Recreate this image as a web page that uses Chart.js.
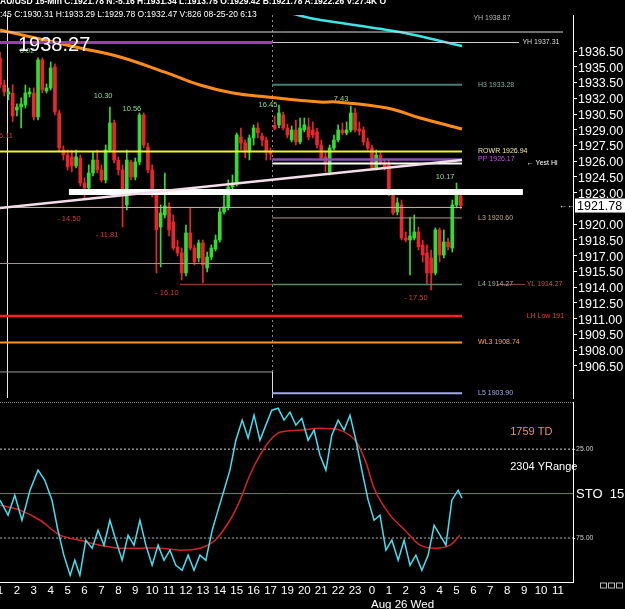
<!DOCTYPE html>
<html lang="en">
<head>
<meta charset="utf-8">
<title>XAU/USD 15-Min</title>
<script src="https://cdn.jsdelivr.net/npm/chart.js@4.4.0/dist/chart.umd.min.js"></script>
<style>
  body { margin:0; background:#000; width:625px; height:609px; overflow:hidden; position:relative; font-family:"Liberation Sans", Arial, sans-serif; color:#fff; }
  #priceBox { position:absolute; left:0; top:0; width:625px; height:400px; }
  #stoBox { position:absolute; left:0; top:400px; width:625px; height:209px; }
  .hdr { position:absolute; left:0; white-space:nowrap; font-size:8.5px; color:#fff; }
  #lastBig { position:absolute; left:18px; top:33px; font-size:20px; color:#fff; }
</style>
</head>
<body>
<div id="priceBox"><canvas id="priceChart"></canvas></div>
<div id="stoBox"><canvas id="stoChart"></canvas></div>
<div class="hdr" style="top:-4px;font-weight:bold">AU/USD 15-Min C:1921.78 N:-5.16 H:1931.34 L:1913.75 O:1929.42 B:1921.78 A:1922.26 V:27.4K O</div>
<div class="hdr" style="top:9px">:45 C:1930.31 H:1933.29 L:1929.78 O:1932.47 V:826 08-25-20 6:13</div>
<div id="lastBig">1938.27</div>
<script>
// 15-min candles, left to right
const candleOpen = [1935.84,1933.26,1932.41,1932.47,1930.88,1931.17,1931.36,1932.41,1932.50,1930.22,
  1935.65,1932.69,1932.98,1934.98,1930.60,1927.07,1926.60,1926.41,1925.55,1926.31,
  1923.93,1923.46,1924.88,1926.12,1925.17,1924.22,1927.07,1929.65,1926.12,1925.17,
  1921.84,1925.93,1924.50,1925.93,1930.41,1927.36,1925.17,1922.98,1919.74,1920.88,
  1921.65,1920.22,1917.84,1917.27,1915.36,1919.17,1917.74,1916.79,1918.22,1915.84,
  1916.88,1917.65,1918.50,1921.17,1921.65,1923.55,1923.93,1928.31,1927.74,1926.88,
  1928.22,1929.17,1928.41,1928.03,1926.88,1929.42,1929.46,1930.41,1929.17,1928.03,
  1928.98,1927.84,1928.98,1929.27,1928.98,1928.79,1927.55,1926.41,1924.98,1927.27,
  1928.03,1928.98,1928.69,1928.98,1930.60,1929.07,1928.98,1927.84,1927.27,1925.36,
  1926.60,1925.84,1925.65,1922.98,1921.17,1921.84,1918.69,1918.50,1918.69,1919.27,
  1918.03,1917.27,1916.79,1915.36,1919.46,1917.07,1918.31,1917.74,1921.84,1922.69];
const candleHigh = [1936.41,1933.74,1932.98,1933.29,1931.46,1932.03,1933.26,1932.98,1932.98,1935.84,
  1935.84,1933.36,1935.46,1935.27,1930.88,1927.46,1927.07,1927.07,1927.07,1926.60,
  1924.41,1925.65,1926.88,1927.07,1925.65,1927.55,1931.17,1929.93,1926.41,1925.65,
  1927.07,1926.12,1926.31,1930.60,1930.60,1927.74,1925.65,1923.27,1921.84,1924.88,
  1922.03,1920.88,1918.50,1917.74,1919.93,1921.55,1918.03,1918.50,1918.50,1917.36,
  1918.03,1918.98,1921.55,1922.79,1924.22,1924.69,1928.69,1929.17,1928.03,1928.50,
  1929.46,1929.65,1928.69,1928.31,1927.27,1930.31,1931.34,1930.69,1929.55,1929.36,
  1929.93,1930.12,1930.12,1930.12,1929.74,1929.17,1928.03,1926.88,1927.55,1928.50,
  1929.46,1929.65,1929.74,1931.26,1931.07,1929.74,1929.27,1928.22,1927.55,1927.07,
  1926.88,1926.12,1926.12,1923.27,1922.50,1922.31,1919.27,1920.69,1920.88,1919.74,
  1918.50,1918.03,1917.55,1919.65,1919.65,1919.46,1918.69,1922.31,1923.93,1922.88];
const candleLow = [1932.98,1932.22,1931.84,1929.78,1930.31,1929.17,1931.07,1932.12,1929.93,1929.93,
  1932.50,1932.50,1932.79,1930.41,1926.88,1926.12,1925.17,1924.98,1925.36,1923.65,
  1922.50,1923.27,1924.60,1924.88,1924.03,1923.93,1926.88,1925.84,1924.69,1919.74,
  1921.36,1924.22,1924.22,1925.65,1927.27,1924.88,1922.60,1915.36,1915.93,1920.60,
  1918.88,1917.55,1916.98,1914.69,1915.07,1917.55,1916.12,1916.41,1914.41,1915.46,
  1916.60,1917.46,1918.31,1920.98,1921.36,1923.07,1923.65,1927.07,1926.31,1926.12,
  1927.55,1928.22,1927.46,1926.12,1926.12,1928.98,1929.17,1928.98,1928.22,1927.84,
  1927.55,1927.65,1928.79,1928.03,1928.22,1927.27,1926.12,1924.98,1924.69,1927.07,
  1927.84,1928.50,1928.50,1928.79,1928.79,1928.50,1927.55,1927.07,1925.17,1925.17,
  1925.65,1925.17,1922.69,1920.88,1920.88,1918.50,1918.31,1915.17,1918.50,1917.55,
  1916.41,1914.22,1913.75,1915.17,1916.41,1916.79,1917.55,1917.36,1921.55,1921.46];
const candleClose = [1933.26,1932.60,1932.60,1930.31,1931.17,1931.46,1932.50,1932.60,1930.22,1935.65,
  1932.79,1932.98,1934.88,1930.69,1927.27,1926.60,1925.46,1925.55,1926.41,1923.93,
  1923.46,1924.88,1926.12,1925.17,1924.22,1927.07,1929.65,1926.12,1925.17,1923.07,
  1926.12,1924.50,1925.93,1930.41,1927.55,1925.17,1922.98,1919.46,1921.07,1921.74,
  1919.46,1917.74,1917.27,1915.36,1919.17,1917.74,1916.41,1918.22,1916.12,1916.88,
  1917.74,1918.50,1921.17,1921.65,1923.55,1923.93,1928.50,1927.74,1926.88,1928.22,
  1929.17,1928.69,1928.03,1926.88,1926.69,1929.12,1930.60,1929.17,1928.50,1928.98,
  1927.84,1929.17,1929.46,1928.31,1928.50,1927.55,1926.31,1925.84,1927.27,1928.03,
  1928.98,1928.69,1928.98,1930.60,1928.98,1928.88,1927.84,1927.27,1925.36,1926.60,
  1925.84,1925.36,1922.98,1921.07,1922.03,1918.69,1918.50,1918.88,1919.27,1917.84,
  1917.07,1915.36,1915.36,1919.46,1917.07,1918.31,1917.84,1921.84,1922.79,1921.78];

// x axis: one hour label every 4 candles (no 18h bar)
const hourLabels = ['1','2','3','4','5','6','7','8','9','10','11','12','13','14','15','16','17',
  '19','20','21','22','23','0','1','2','3','4','5','6','7','8','9','10','11'];
const priceTicks = [1936.5,1935,1933.5,1932,1930.5,1929,1927.5,1926,1924.5,1923,1920,1918.5,
  1917,1915.5,1914,1912.5,1911,1909.5,1908,1906.5];
const lastPrice = 1921.78;

// moving averages (candle index, price)
const emaX = [0,18.9,28.4,39.5,47.3,55.1,63.2,75.7,79.7,91.6,99.4,109.3];
const emaY = [1938.50,1936.79,1935.93,1934.41,1933.26,1932.50,1932.12,1931.64,1931.64,1931.07,1930.12,1929.07];
const slowMaX = [68.6,74.5,94.6,109.3];
const slowMaY = [1940.12,1939.55,1938.31,1936.98];
const trendX = [0,109.3];
const trendY = [1921.55,1926.12];

// horizontal levels: value, from candle, to candle
const levelValue = [1938.31,1937.31,1937.31,1933.28,1926.94,1926.17,1925.79,1923.07,1921.60,1920.60,
  1916.26,1914.27,1914.27,1914.27,1911.26,1908.74,1905.93,1903.90];
const levelFrom  = [0,0,64.4,64.4,0,64.4,64.4,16.3,0,64.4,0,42.6,64.4,117.6,0,0,0,64.4];
const levelTo    = [133.2,64.4,122.8,109.3,109.3,109.3,109.3,123.7,109.3,109.3,64.4,64.4,109.3,124.2,109.3,109.3,64.4,109.3];

// level captions: text, candle position, price
const capText  = ['YH 1938.87','YH 1937.31','H3 1933.28','ROWR 1926.94','PP 1926.17','\u2190 Yest Hi','L3 1920.60',
  'L4 1914.27','YL 1914.27','LH Low 191','WL3 1908.74','L5 1903.90'];
const capX     = [112,123.6,113.1,113.1,113.1,124.6,113.1,113.1,124.6,124.6,113.1,113.1];
const capPrice = [1939.64,1937.31,1933.28,1926.94,1926.17,1925.85,1920.60,1914.27,1914.27,1911.26,1908.74,1903.90];

// swing size notes
const swingText  = ['6.02','6.11','10.30','10.56','16.45','7.43','10.17','- 14.50','- 11.81','- 16.10','- 17.50'];
const swingX     = [6.4,1.4,24.4,31.2,63.4,80.7,105.3,16.3,25.3,39.5,98.4];
const swingPrice = [1936.50,1928.40,1932.21,1930.98,1931.36,1931.93,1924.50,1920.50,1918.98,1913.45,1912.98];

// stochastic (candle index, value)
const stoKX = [0,1.9,3.5,5.2,7.1,9.0,10.6,12.3,13.7,15.1,16.6,17.7,18.9,20.3,21.8,23.2,24.6,26.0,27.4,28.9,
  30.3,31.7,33.1,34.5,36.0,37.4,38.8,40.2,41.6,43.1,44.5,45.9,47.3,48.7,50.2,51.6,53.0,54.4,55.8,57.3,
  58.7,60.1,61.5,62.9,64.3,65.8,67.2,68.6,70.0,71.4,72.9,74.3,75.7,77.1,78.5,80.0,81.4,82.8,84.2,85.6,
  87.1,88.5,89.9,91.3,92.7,94.2,95.6,97.0,98.4,99.8,101.3,102.7,104.1,105.5,106.9,108.4,109.3];
const stoKY = [53.7,62.1,50.9,65.0,48.1,36.8,42.5,53.7,70.6,84.6,95.9,87.5,95.9,76.2,80.7,70.6,79.0,65.0,76.2,87.5,
  73.4,79.0,65.0,79.0,90.3,79.0,87.5,81.8,90.3,93.1,84.6,93.1,84.6,87.5,70.6,59.3,48.1,36.8,20.0,8.7,
  18.8,5.9,20.0,11.5,3.1,2.0,8.7,4.2,11.5,7.6,20.0,14.3,28.4,36.8,17.2,8.7,14.3,5.9,20.0,36.8,
  53.7,65.0,62.1,81.8,76.2,87.5,76.2,90.3,84.6,93.1,84.6,67.8,73.4,79.0,53.7,48.1,52.6];
const stoDX = [0,4.7,9.5,14.2,18.9,23.7,28.4,33.1,37.9,42.6,47.3,50.9,54.4,56.8,59.1,61.5,63.9,66.2,71.0,75.7,
  80.4,84.0,86.4,88.7,92.3,95.8,99.4,102.9,106.5,108.8];
const stoDY = [56.5,59.3,65.0,73.4,76.2,79.0,80.7,80.7,80.7,81.8,80.7,76.2,65.0,53.7,39.7,28.4,20.0,15.5,14.3,13.2,
  14.3,20.0,31.2,48.1,62.1,70.6,79.0,80.7,79.0,73.4];
const stoLevels = [25, 50, 75];
const stoTicks = [25, 75];

// ---------- styles ----------
const X_MIN = 0, X_MAX = 135.56;
const Y_MIN = 1903.45, Y_MAX = 1939.93;
const dayStart = 64.4, cursorAt = 1.66;
const upColor = '#33dc33', downColor = '#e8262e';
const levelColor = ['#dddddd','#9b3db5','#cfcfcf','#4d7d72','#f2f22a','#8a55b0','#ffffff','#ffffff','#cbb6aa','#b09a8a',
  '#a39484','#8a3a2a','#5f8565','#8a5040','#ff1c1c','#ff962e','#9a9a9a','#a4a4f4'];
const levelWidth = [1,3,1,2,2,2.5,2,6,1,1,1,1.5,1.5,1,2.5,2,1,2];
const capColor = ['#bbbbbb','#dddddd','#7fb3a3','#f3e6aa','#c355e0','#ffffff','#c8a890','#9cb09c','#d85040','#ff3030','#ffa040','#a8a8f4'];
const swingColor = ['#7fc07f','#c84040','#8fd88f','#8fd88f','#8fd88f','#8fd88f','#8fd88f','#c84040','#c84040','#c84040','#c84040'];
const FONT = '"Liberation Sans", Arial, sans-serif';

const idx = candleOpen.map((_, i) => i);
const isUp = idx.map(i => candleClose[i] >= candleOpen[i]);
const candleColors = isUp.map(u => u ? upColor : downColor);
const pts = (xs, ys) => xs.map((x, i) => ({x: x, y: ys[i]}));
const noPad = s => { s.paddingTop = 0; s.paddingBottom = 0; s.paddingLeft = 0; s.paddingRight = 0; };

const levelSets = levelValue.map((v, i) => ({
  type: 'line', data: [{x: levelFrom[i], y: v}, {x: levelTo[i], y: v}],
  borderColor: levelColor[i], borderWidth: levelWidth[i], pointRadius: 0, order: 2
}));

const priceOverlay = {
  id: 'priceOverlay',
  beforeDatasetsDraw(chart) {
    const {ctx, scales: {x, y}, chartArea: a} = chart;
    ctx.save();
    // session separator + cursor
    const sx = Math.round(x.getPixelForValue(dayStart)) + 0.5;
    ctx.strokeStyle = '#8a8a8a'; ctx.lineWidth = 1; ctx.setLineDash([2, 3]);
    ctx.beginPath(); ctx.moveTo(sx, a.top); ctx.lineTo(sx, y.getPixelForValue(1905.93)); ctx.stroke();
    ctx.setLineDash([]); ctx.strokeStyle = '#dddddd';
    ctx.beginPath(); ctx.moveTo(sx, y.getPixelForValue(1905.93)); ctx.lineTo(sx, a.bottom); ctx.stroke();
    const cx = Math.round(x.getPixelForValue(cursorAt)) + 0.5;
    ctx.strokeStyle = '#e8e8e8';
    ctx.beginPath(); ctx.moveTo(cx, a.top); ctx.lineTo(cx, a.bottom); ctx.stroke();
    ctx.restore();
  },
  afterDraw(chart) {
    const {ctx, scales: {x, y}, chartArea: a} = chart;
    ctx.save();
    ctx.textBaseline = 'middle';
    ctx.font = '7px ' + FONT;
    capText.forEach((t, i) => {
      ctx.fillStyle = capColor[i];
      ctx.fillText(t, x.getPixelForValue(capX[i]), y.getPixelForValue(capPrice[i]));
    });
    ctx.font = '7.5px ' + FONT;
    ctx.textAlign = 'center';
    swingText.forEach((t, i) => {
      ctx.fillStyle = swingColor[i];
      ctx.fillText(t, x.getPixelForValue(swingX[i]), y.getPixelForValue(swingPrice[i]));
    });
    // last price box on the axis
    const ly = y.getPixelForValue(lastPrice);
    ctx.fillStyle = '#ffffff';
    ctx.fillRect(a.right + 2, ly - 7, 52, 14);
    ctx.fillStyle = '#000000';
    ctx.textAlign = 'left';
    ctx.font = '12.5px ' + FONT;
    ctx.fillText(lastPrice.toFixed(2), a.right + 4, ly + 0.5);
    ctx.fillStyle = '#ffffff';
    ctx.font = '8px ' + FONT;
    ctx.fillText('\u2190\u2190', a.right - 14, ly);
    ctx.restore();
  }
};

new Chart(document.getElementById('priceChart'), {
  type: 'bar',
  data: {
    datasets: [
      { type: 'line', data: pts(trendX, trendY), borderColor: '#f3dde8', borderWidth: 2.5, pointRadius: 0, order: 1 },
      ...levelSets,
      { type: 'line', data: pts(emaX, emaY), borderColor: '#ff8c1a', borderWidth: 3, pointRadius: 0, tension: 0.4, order: 3 },
      { type: 'line', data: pts(slowMaX, slowMaY), borderColor: '#3fe3e3', borderWidth: 2.5, pointRadius: 0, tension: 0.3, order: 3 },
      { data: idx.map(i => ({x: i, y: [candleOpen[i], candleClose[i]]})), backgroundColor: candleColors,
        barThickness: 3, minBarLength: 1, grouped: false, order: 5 },
      { data: idx.map(i => ({x: i, y: [candleLow[i], candleHigh[i]]})), backgroundColor: candleColors,
        barThickness: 1, grouped: false, order: 6 }
    ]
  },
  options: {
    responsive: true, maintainAspectRatio: false, animation: false,
    layout: { padding: { top: 15, bottom: 2, left: 0, right: 0 } },
    plugins: { legend: { display: false }, tooltip: { enabled: false } },
    scales: {
      x: { type: 'linear', min: X_MIN, max: X_MAX, offset: false, display: false },
      y: {
        position: 'right', min: Y_MIN, max: Y_MAX,
        afterFit: s => { s.width = 52; noPad(s); },
        afterBuildTicks: s => { s.ticks = priceTicks.map(v => ({value: v})); },
        ticks: { color: '#ffffff', padding: 1, labelOffset: 1.5, font: { family: FONT, size: 12.5 },
                 callback: v => v.toFixed(2) },
        grid: { drawOnChartArea: false, color: '#ffffff', tickLength: 4 },
        border: { color: '#ffffff', width: 1 }
      }
    }
  },
  plugins: [priceOverlay]
});

const stoOverlay = {
  id: 'stoOverlay',
  afterDraw(chart) {
    const {ctx, scales: {x, y}, chartArea: a} = chart;
    ctx.save();
    ctx.textBaseline = 'middle';
    ctx.font = '11px ' + FONT;
    ctx.fillStyle = '#e8925c';
    ctx.fillText('1759 TD', x.getPixelForValue(120.7), y.getPixelForValue(15.5));
    ctx.fillStyle = '#ffffff';
    ctx.fillText('2304 YRange', x.getPixelForValue(120.7), y.getPixelForValue(35.2));
    ctx.font = '13px ' + FONT;
    ctx.fillText('STO  15,', a.right + 3, y.getPixelForValue(50) + 1);
    ctx.font = '11.5px ' + FONT;
    ctx.textBaseline = 'alphabetic';
    ctx.fillText('Aug 26 Wed', x.getPixelForValue(88) - 1, a.bottom + 25);
    ctx.strokeStyle = '#bbbbbb'; ctx.lineWidth = 1;
    for (let k = 0; k < 3; k++) ctx.strokeRect(a.right + 27.5 + k * 8, a.bottom + 0.5, 6, 5);
    ctx.restore();
  }
};

const stoLevelColor = ['#d0d0d0', '#6d826d', '#b0b0b0'];
const stoLevelDash = [[2, 2], [], [2, 2]];

new Chart(document.getElementById('stoChart'), {
  type: 'line',
  data: {
    datasets: [
      { data: pts(stoKX, stoKY), borderColor: '#45dff0', borderWidth: 1.5, pointRadius: 0, order: 1 },
      { data: pts(stoDX, stoDY), borderColor: '#d42424', borderWidth: 1.5, pointRadius: 0, tension: 0.3, order: 2 },
      ...stoLevels.map((v, i) => ({ data: [{x: X_MIN, y: v}, {x: X_MAX, y: v}], borderColor: stoLevelColor[i],
        borderWidth: 1, borderDash: stoLevelDash[i], pointRadius: 0, order: 4 })),
      { data: [{x: X_MIN, y: -1.2}, {x: X_MAX, y: -1.2}], borderColor: '#8a8a8a', borderWidth: 1, borderDash: [1, 1], pointRadius: 0, order: 4 }
    ]
  },
  options: {
    responsive: true, maintainAspectRatio: false, animation: false,
    layout: { padding: { top: 2, bottom: 0, left: 0, right: 0 } },
    plugins: { legend: { display: false }, tooltip: { enabled: false } },
    scales: {
      x: {
        type: 'linear', min: X_MIN, max: X_MAX, offset: false,
        afterFit: s => { s.height = 26.5; noPad(s); },
        afterBuildTicks: s => { s.ticks = hourLabels.map((_, k) => ({value: k * 4})); },
        ticks: { color: '#ffffff', autoSkip: false, maxRotation: 0, minRotation: 0, padding: 1,
                 font: { family: FONT, size: 11.5 },
                 callback: (v, i) => hourLabels[i] },
        grid: { drawOnChartArea: false, drawTicks: false },
        border: { color: '#ffffff', width: 1 }
      },
      y: {
        position: 'right', reverse: true, min: -1.5, max: 100,
        afterFit: s => { s.width = 52; noPad(s); },
        afterBuildTicks: s => { s.ticks = stoTicks.map(v => ({value: v})); },
        ticks: { color: '#cccccc', padding: 1, font: { family: FONT, size: 7 },
                 callback: v => v.toFixed(2) },
        grid: { drawOnChartArea: false, color: '#cccccc', tickLength: 2 },
        border: { color: '#ffffff', width: 1 }
      }
    }
  },
  plugins: [stoOverlay]
});
</script>
</body>
</html>
